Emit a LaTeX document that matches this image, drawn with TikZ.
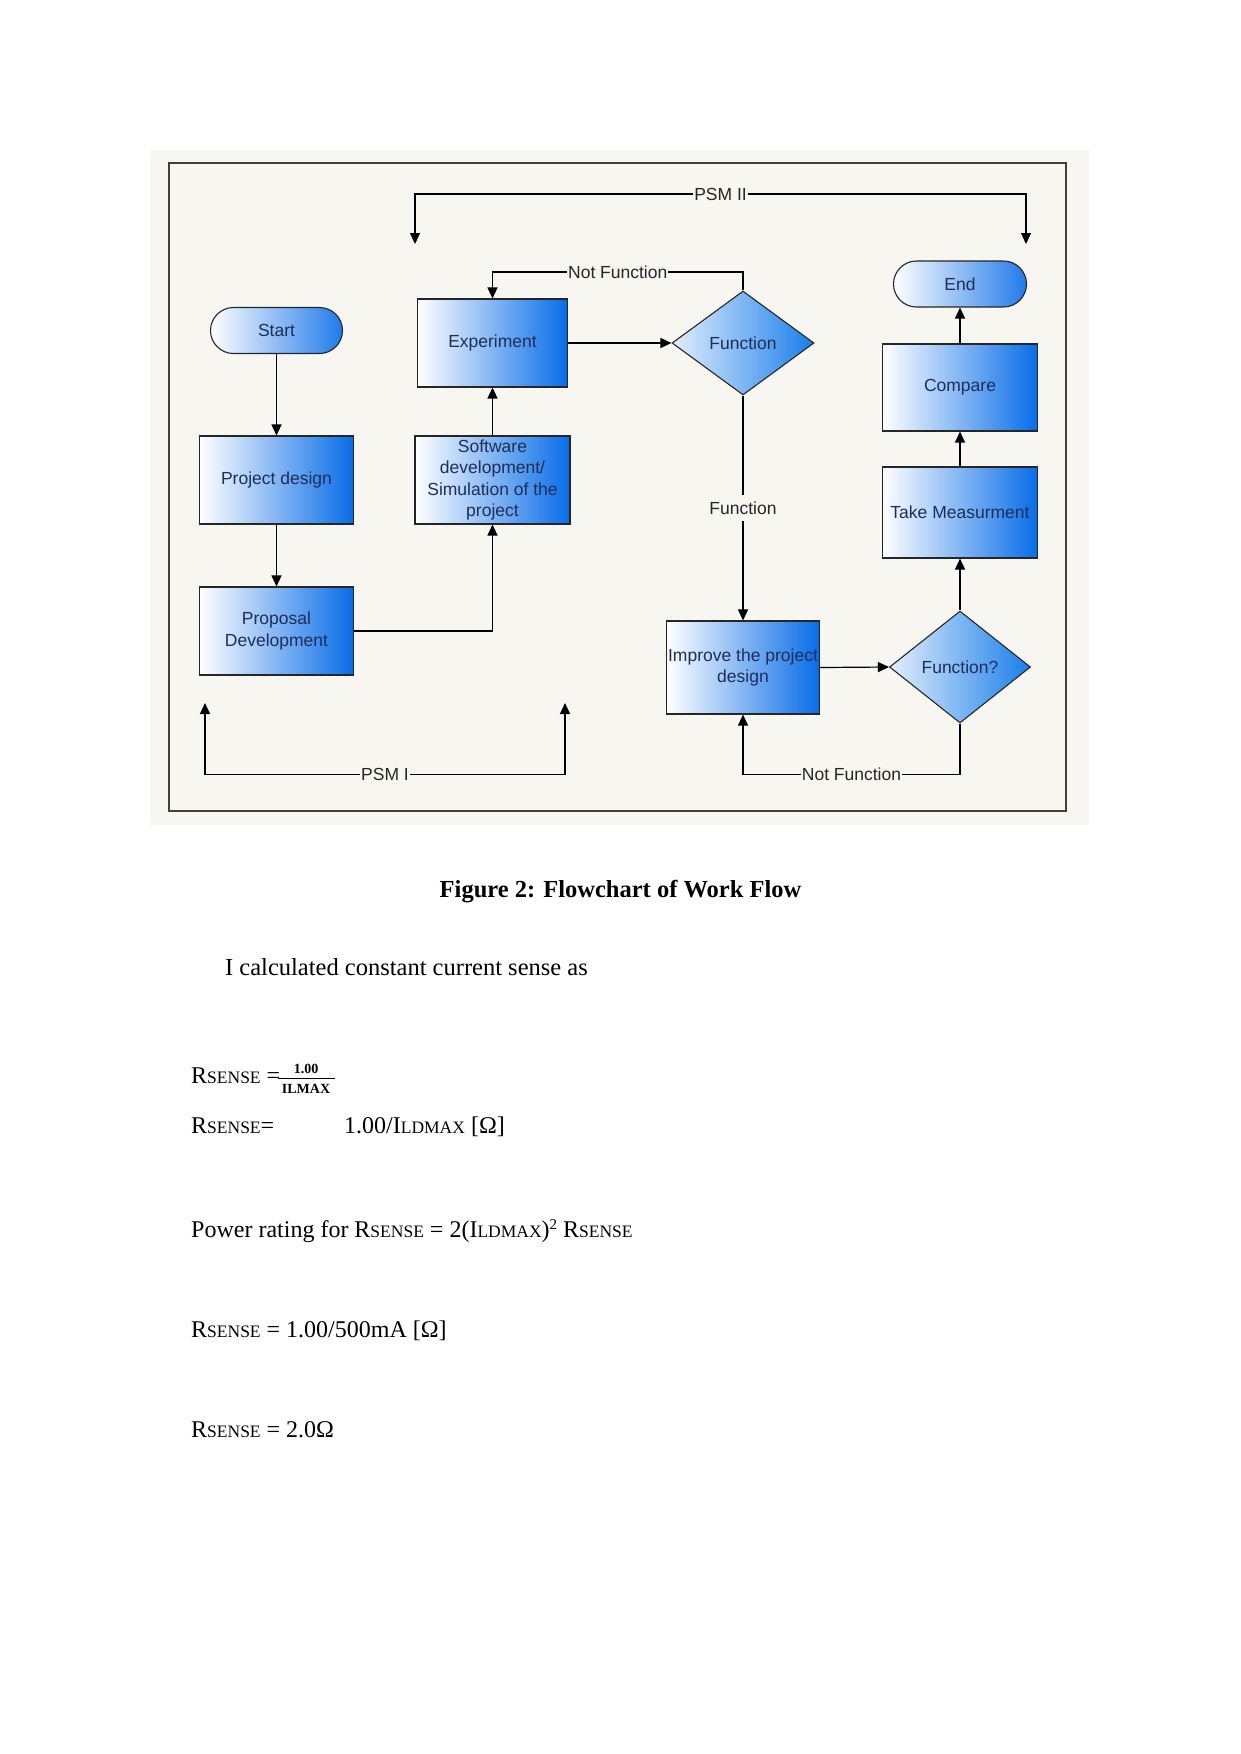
\documentclass[tikz,border=0pt]{standalone}
\usepackage{fontspec}
\setmainfont{Liberation Serif}
\newfontfamily\arialf{Liberation Sans}
\usetikzlibrary{shapes.geometric,arrows.meta}
\definecolor{cream}{RGB}{248,246,241}
\definecolor{boxblue}{RGB}{8,108,232}
\definecolor{diablue}{RGB}{26,126,234}
\definecolor{dialight}{RGB}{226,238,252}
\definecolor{txtblue}{RGB}{30,45,90}
\newcommand{\smc}[1]{{\fontsize{17.5}{17.5}\selectfont #1}}
\begin{document}
\begin{tikzpicture}[x=1pt,y=-1pt,
  fc/.style={draw=black!85, line width=1.1pt, text=txtblue, align=center, inner sep=0pt,
    font=\arialf\fontsize{17.5}{21.5}\selectfont},
  box/.style={fc, rectangle, left color=white, right color=boxblue},
  term/.style={fc, rectangle, rounded corners=23pt, left color=white, right color=boxblue!90!white},
  dia/.style={fc, diamond, left color=dialight, right color=diablue},
  arr/.style={draw=black, line width=1.2pt, -{Triangle[length=11pt,width=10pt]}},
  arrb/.style={draw=black, line width=1.2pt, {Triangle[length=11pt,width=10pt]}-{Triangle[length=11pt,width=10pt]}},
  lbl/.style={fill=cream, inner xsep=1pt, inner ysep=2pt, text=black!85, font=\arialf\fontsize{17.5}{20}\selectfont},
  vlbl/.style={lbl, inner ysep=7pt},
  eqf/.style={anchor=base west, inner sep=0pt, font=\fontsize{24}{27}\selectfont},
  body/.style={anchor=base, inner sep=0pt, font=\fontsize{24.5}{28}\selectfont}]
\useasboundingbox (0,0) rectangle (1241,1754);
\fill[white] (0,0) rectangle (1241,1754);
% background panel and frame
\fill[cream] (150,150) rectangle (1089,825);
\draw[line width=1.5pt, draw=black!75] (169,163) rectangle (1066,811);

% nodes
\node[term, minimum width=132pt, minimum height=46pt] (start) at (276.5,330.5) {Start};
\node[box, minimum width=154pt, minimum height=88pt] (pd) at (276.5,480) {Project design};
\node[box, minimum width=154pt, minimum height=88pt] (prop) at (276.5,631) {Proposal\\Development};
\node[box, minimum width=155pt, minimum height=88pt] (sw) at (492.5,480) {Software\\development/\\Simulation of the\\project};
\node[box, minimum width=150pt, minimum height=88pt] (exp) at (492.5,343) {Experiment};
\node[dia, minimum width=142pt, minimum height=104pt] (fn) at (743,343) {Function};
\node[box, minimum width=153pt, minimum height=93pt] (imp) at (743,667.5) {Improve the project\\design};
\node[dia, minimum width=141pt, minimum height=112pt] (fq) at (960,667) {Function?};
\node[box, minimum width=155pt, minimum height=91pt] (tm) at (960,512.5) {Take Measurment};
\node[box, minimum width=155pt, minimum height=87pt] (cmp) at (960,387.5) {Compare};
\node[term, minimum width=133pt, minimum height=46pt] (end) at (960,284) {End};

% free ends of the PSM connectors
\coordinate (p2a) at (415,244);
\coordinate (p2b) at (1026,244);
\coordinate (p1a) at (205,703);
\coordinate (p1b) at (565,703);

% connectors
\draw[arr] (start) -- (pd);
\draw[arr] (pd) -- (prop);
\draw[arr] (prop.east) -| (sw.south);
\draw[arr] (sw) -- (exp);
\draw[arr] (exp) -- (fn.west);
\draw[arr] (fn.north) -- (fn.north |- 0,272) -- node[lbl]{Not Function} (exp.north |- 0,272) -- (exp.north);
\draw[arr] (fn.south) -- node[vlbl]{Function} (imp.north);
\draw[arr] (imp.east) -- (fq.west);
\draw[arr] (fq.south) -- (fq.south |- 0,774.5) -- node[lbl]{Not Function} (imp.south |- 0,774.5) -- (imp.south);
\draw[arr] (fq.north) -- (tm.south);
\draw[arr] (tm) -- (cmp);
\draw[arr] (cmp) -- (end);
\draw[arrb] (p2a) -- (p2a |- 0,194) -- node[lbl]{PSM II} (p2b |- 0,194) -- (p2b);
\draw[arrb] (p1a) -- (p1a |- 0,774.5) -- node[lbl]{PSM I} (p1b |- 0,774.5) -- (p1b);

% caption and text
\node[body, font=\bfseries\fontsize{24.5}{28}\selectfont] (cap) at (620.5,897) {Figure 2: Flowchart of Work Flow};
\node[body, anchor=base west] (intro) at (225,975) {I calculated constant current sense as};

% equations
\node[eqf] (e1) at (191,1083) {R\smc{SENSE} =};
\node[anchor=base, inner sep=0pt, font=\bfseries\fontsize{14}{14}\selectfont] (e1n) at (306,1073) {1.00};
\draw[line width=1pt] (278,1078) -- (335,1078);
\node[anchor=base, inner sep=0pt, font=\bfseries\fontsize{14}{14}\selectfont] (e1d) at (306,1093) {ILMAX};
\node[eqf] (e2a) at (191,1133) {R\smc{SENSE}=};
\node[eqf] (e2b) at (344,1133) {1.00/I\smc{LDMAX} [Ω]};
\node[eqf] (e3) at (191,1237) {Power rating for R\smc{SENSE} = 2(I\smc{LDMAX})\raisebox{8pt}{\fontsize{15}{15}\selectfont 2} R\smc{SENSE}};
\node[eqf] (e4) at (191,1337) {R\smc{SENSE} = 1.00/500mA [Ω]};
\node[eqf] (e5) at (191,1437) {R\smc{SENSE} = 2.0Ω};
\end{tikzpicture}
\end{document}
